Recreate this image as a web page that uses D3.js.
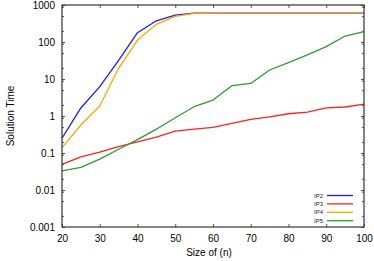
<!DOCTYPE html>
<html><head><meta charset="utf-8">
<script src="https://cdn.jsdelivr.net/npm/d3@7"></script>
<style>body{margin:0;background:#fff}svg{display:block}text{font-family:"Liberation Sans",Arial,sans-serif}</style>
</head><body>
<svg id="c" width="374" height="261"></svg>
<script>
const sizes = [20,25,30,35,40,45,50,55,60,65,70,75,80,85,90,95,100];
const ip2 = [0.25,1.65,6.2,32,178,375,530,600,600,600,600,600,600,600,600,600,600];
const ip3 = [0.049,0.079,0.105,0.148,0.2,0.27,0.39,0.44,0.49,0.63,0.81,0.95,1.15,1.28,1.65,1.75,2.1];
const ip4 = [0.14,0.57,1.86,19.5,113,300,490,590,600,600,600,600,600,600,600,600,600];
const ip5 = [0.033,0.041,0.068,0.126,0.23,0.44,0.9,1.78,2.7,6.6,7.6,17.5,27.7,44.7,75,145,190];
const seriesNames = ["IP2","IP3","IP4","IP5"];
const seriesColors = ["#1a1aff","#ff2020","#ffa500","#2e9b2e"];
const xTicks = [20,30,40,50,60,70,80,90,100];
const yTicks = [0.001,0.01,0.1,1,10,100,1000];
const yTickLabels = ["0.001","0.01","0.1","1","10","100","1000"];
const xLabel = "Size of (n)";
const yLabel = "Solution Time";

const L=62,R=364,T=5,B=227;
const svg=d3.select("#c");
const x=d3.scaleLinear().domain([20,100]).range([L,R]);
const y=d3.scaleLog().domain([0.001,1000]).range([B,T]);

const minor=[];
yTicks.slice(0,-1).forEach(d=>{[2,5,9].forEach(m=>minor.push(d*m));});

const axCol="#555";
function style(g){g.select(".domain").remove();g.selectAll("line").attr("stroke",axCol);}
// bottom
svg.append("g").attr("transform",`translate(0,${B})`)
 .call(d3.axisBottom(x).tickValues(xTicks).tickSize(-3).tickPadding(8).tickFormat(d3.format("d")))
 .call(style).call(g=>g.selectAll("text").attr("font-size",10).attr("fill","#000"));
// top
svg.append("g").attr("transform",`translate(0,${T})`)
 .call(d3.axisTop(x).tickValues(xTicks).tickSize(-3).tickFormat(""))
 .call(style);
// left
svg.append("g").attr("transform",`translate(${L},0)`)
 .call(d3.axisLeft(y).tickValues(yTicks).tickSize(-3).tickPadding(7).tickFormat((d,i)=>yTickLabels[i]))
 .call(style).call(g=>g.selectAll("text").attr("font-size",10).attr("fill","#000"));
svg.append("g").attr("transform",`translate(${L},0)`)
 .call(d3.axisLeft(y).tickValues(minor).tickSize(-2).tickFormat(""))
 .call(style);
// right
svg.append("g").attr("transform",`translate(${R},0)`)
 .call(d3.axisRight(y).tickValues(yTicks).tickSize(-3).tickFormat(""))
 .call(style);
svg.append("g").attr("transform",`translate(${R},0)`)
 .call(d3.axisRight(y).tickValues(minor).tickSize(-2).tickFormat(""))
 .call(style);

const line=d3.line().x((d,i)=>x(sizes[i])).y(d=>y(d));
[ip2,ip3,ip4,ip5].forEach((s,k)=>{
  svg.append("path").datum(s).attr("d",line).attr("fill","none")
    .attr("stroke",seriesColors[k]).attr("stroke-width",1.3).attr("stroke-linejoin","round");
});

// frame
svg.append("rect").attr("x",L).attr("y",T).attr("width",R-L).attr("height",B-T)
  .attr("fill","none").attr("stroke","#333").attr("stroke-width",1.2);

// labels
svg.append("text").attr("x",(L+R)/2-4).attr("y",256).attr("text-anchor","middle")
  .attr("font-size",10).text(xLabel);
svg.append("text").attr("transform",`translate(14,${(T+B)/2}) rotate(-90)`)
  .attr("text-anchor","middle").attr("font-size",10).text(yLabel);

// legend
const lg=svg.append("g");
seriesNames.forEach((n,k)=>{
  const yy=195.5+k*8.4;
  lg.append("text").attr("x",323).attr("y",yy+2).attr("text-anchor","end")
    .attr("font-size",6).attr("fill","#222").text(n);
  lg.append("line").attr("x1",327).attr("x2",353).attr("y1",yy).attr("y2",yy)
    .attr("stroke",seriesColors[k]).attr("stroke-width",1.3);
});
</script>
</body></html>
